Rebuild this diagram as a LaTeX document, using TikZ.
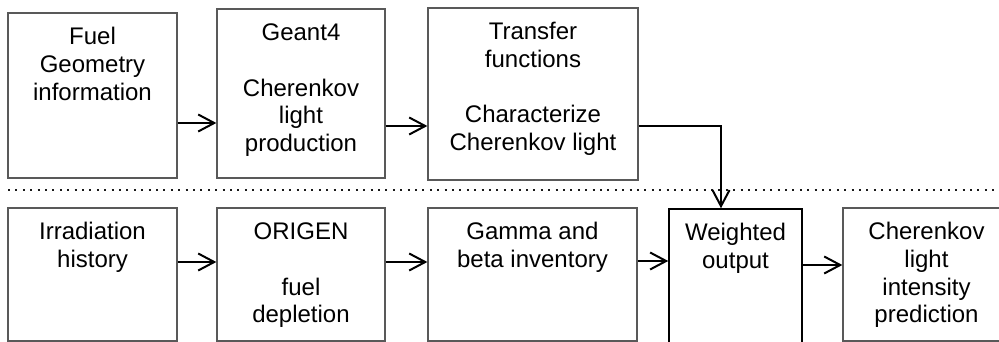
\documentclass[tikz,border=0pt]{standalone}
\usepackage{fontspec}
\setmainfont{Liberation Sans}
\usetikzlibrary{arrows.meta}
\begin{document}
\begin{tikzpicture}[x=1pt,y=-1pt,
  box/.style={draw=black!65, line width=1.3pt, rectangle, inner sep=0pt},
  wbox/.style={draw=black, line width=1.5pt, rectangle, inner sep=0pt},
  boxtext/.style={anchor=north, inner sep=0pt, align=center,
    font=\fontsize{24}{27.7}\selectfont, yshift=-12.7pt},
  arr/.style={line width=2pt, -{Straight Barb[length=16pt,width=17pt,line width=2pt]}},
  sep/.style={line width=2pt, dash pattern=on 2pt off 5.4pt, black!90}]
\useasboundingbox (0,0) rectangle (999,342);

% upper row: optical model
\node[box, minimum width=169pt, minimum height=165pt] (b1) at (92.5,95.5) {};
\node[box, minimum width=168pt, minimum height=169pt] (b2) at (301,93.5) {};
\node[box, minimum width=210pt, minimum height=172pt] (b3) at (533,94) {};

% lower row: source term chain
\node[box, minimum width=169pt, minimum height=133pt] (b4) at (92.5,274.5) {};
\node[box, minimum width=168pt, minimum height=133pt] (b5) at (301,274.5) {};
\node[box, minimum width=209pt, minimum height=133pt] (b6) at (532.5,274.5) {};
\node[wbox, minimum width=133pt, minimum height=136pt] (b7) at (735.5,277) {};
\node[box, minimum width=167pt, minimum height=133pt] (b8) at (926.5,274.5) {};

% box labels
\node[boxtext] (t1) at (b1.north) {\strut Fuel\\Geometry\\information};
\node[boxtext] (t2) at (b2.north) {\strut Geant4\\[27.7pt]Cherenkov\\light\\production};
\node[boxtext] (t3) at (b3.north) {\strut Transfer\\functions\\[27.7pt]Characterize\\Cherenkov light};
\node[boxtext] (t4) at (b4.north) {\strut Irradiation\\history};
\node[boxtext] (t5) at (b5.north) {\strut ORIGEN\\[27.7pt]fuel\\depletion};
\node[boxtext] (t6) at (b6.north) {\strut Gamma and\\beta inventory};
\node[boxtext] (t7) at (b7.north) {\strut Weighted\\output};
\node[boxtext] (t8) at (b8.north) {\strut Cherenkov\\light\\intensity\\prediction};

% separator between the two rows
\coordinate (sl) at (8,190);
\coordinate (sr) at (999,190);
\draw[sep] (sl) -- (sr);

% levels of the connectors
\coordinate (r1) at (0,123);
\coordinate (r2) at (0,126);
\coordinate (r3) at (0,262);
\coordinate (r4) at (0,261);
\coordinate (r5) at (0,265);
\coordinate (drop) at (721,0);

\draw[arr] (b1.east |- r1) -- (b2.west |- r1);
\draw[arr] (b2.east |- r2) -- (b3.west |- r2);
\draw[arr] (b3.east |- r2) -| (b7.north -| drop);
\draw[arr] (b4.east |- r3) -- (b5.west |- r3);
\draw[arr] (b5.east |- r3) -- (b6.west |- r3);
\draw[arr] (b6.east |- r4) -- (b7.west |- r4);
\draw[arr] (b7.east |- r5) -- (b8.west |- r5);
\end{tikzpicture}
\end{document}
